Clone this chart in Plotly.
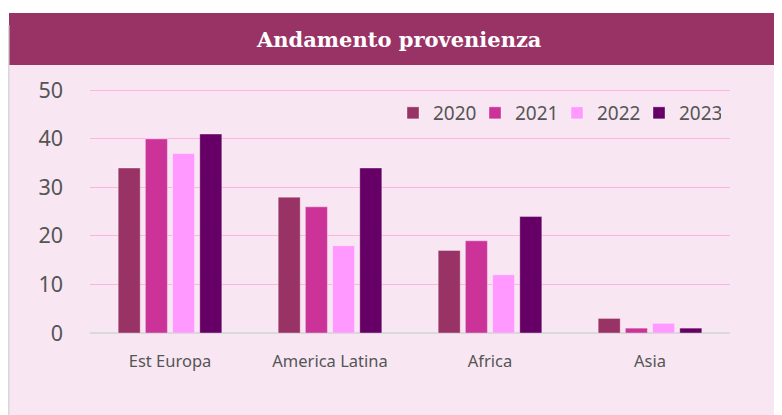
import plotly.graph_objects as go

categories = ["Est Europa", "America Latina", "Africa", "Asia"]
years = ["2020", "2021", "2022", "2023"]
v2020 = [34, 28, 17, 3]
v2021 = [40, 26, 19, 1]
v2022 = [37, 18, 12, 2]
v2023 = [41, 34, 24, 1]
colors = ["#993366", "#cc3399", "#ff99ff", "#660066"]

# page has an 8px body margin; figure fills the rest of the 782x415 window
OFF = 8
W, H = 782 - OFF, 415 - OFF
def px(x): return (x - OFF) / W
def py(y): return 1 - (y - OFF) / H

fig = go.Figure()
for name, vals, c in zip(years, [v2020, v2021, v2022, v2023], colors):
    fig.add_trace(go.Bar(x=categories, y=vals, name=name, marker_color=c,
                         marker_line=dict(color="rgba(255,255,255,0.35)", width=1)))

fig.update_layout(
    width=W, height=H,
    margin=dict(l=0, r=0, t=0, b=0, autoexpand=False),
    paper_bgcolor="white",
    plot_bgcolor="rgba(0,0,0,0)",
    barmode="group", bargap=0.32, bargroupgap=0.19,
    font=dict(family="Noto Sans, sans-serif", color="#555555"),
    xaxis=dict(domain=[px(90), px(730)], showgrid=False, showline=False, zeroline=False,
               tickfont=dict(size=16.5, color="#555555"), ticklabelstandoff=16),
    yaxis=dict(domain=[py(333), py(87.5)], range=[0, 50.6], dtick=10,
               gridcolor="#fcb4e6", gridwidth=1.3, zeroline=True, zerolinecolor="#d9d9d9",
               zerolinewidth=2, tickfont=dict(size=21.5, color="#555555"), ticklabelstandoff=26),
    legend=dict(orientation="h", x=px(721), xanchor="right", y=py(113), yanchor="middle",
                font=dict(size=19, color="#555555"), bgcolor="rgba(0,0,0,0)",
                traceorder="normal", entrywidth=37, itemwidth=30),
    shapes=[
        dict(type="rect", xref="paper", yref="paper", x0=px(9), x1=1, y0=0, y1=py(65),
             fillcolor="#f8e7f3", line=dict(width=0), layer="below"),
        dict(type="rect", xref="paper", yref="paper", x0=px(9), x1=1, y0=py(65), y1=py(13),
             fillcolor="#993366", line=dict(width=0), layer="below"),
        dict(type="line", xref="paper", yref="paper", x0=px(8.5), x1=px(8.5), y0=0, y1=py(25),
             line=dict(color="#d8d8d8", width=2), layer="below"),
    ],
    annotations=[
        dict(text="<b>Andamento provenienza</b>", xref="paper", yref="paper", x=px(399), y=py(39),
             xanchor="center", yanchor="middle", showarrow=False,
             font=dict(family="DejaVu Serif, serif", size=21, color="white")),
    ],
)

fig.write_html("out.html")
